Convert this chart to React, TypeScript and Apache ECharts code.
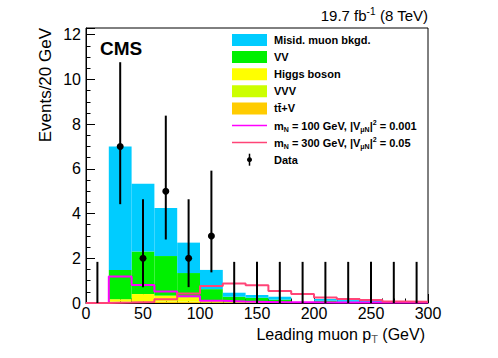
import React, { useEffect, useRef } from "react";
import * as echarts from "echarts";

// bin lower edges (GeV), bin width 20
const binLow = [0, 20, 40, 60, 80, 100, 120, 140, 160, 180, 200, 220, 240, 260, 280];
const binWidth = 20;

// stacked backgrounds (bottom to top)
const ttV = [0, 0.05, 0.06, 0.05, 0.05, 0.03, 0.02, 0.01, 0.01, 0, 0.01, 0, 0, 0, 0];
const vvv = [0, 0.02, 0.03, 0.02, 0.02, 0.01, 0.01, 0.01, 0.01, 0, 0, 0, 0, 0, 0];
const higgs = [0, 0.1, 0.31, 0.26, 0.19, 0.06, 0.03, 0.02, 0.01, 0.02, 0.02, 0.02, 0.01, 0.01, 0];
const vv = [0, 1.31, 1.9, 1.77, 1.08, 0.52, 0.22, 0.2, 0.12, 0.01, 0.07, 0.03, 0.02, 0.01, 0.01];
const misid = [0, 5.52, 3.03, 2.15, 1.36, 0.86, 0.18, 0.12, 0.13, 0, 0.08, 0.08, 0.07, 0.02, 0.01];

// signal hypotheses
const sig100 = [0, 1.18, 0.81, 0.51, 0.3, 0.1, 0.07, 0.05, 0.03, 0.03, 0.02, 0.02, 0.02, 0.02, 0.02];
const sig300 = [0, 0.02, 0.05, 0.17, 0.43, 0.76, 0.87, 0.79, 0.54, 0.4, 0.25, 0.18, 0.13, 0.07, 0.06];

// data with asymmetric (Poisson) uncertainties
const dataVal = [0, 7, 2, 5, 2, 3, 0, 0, 0, 0, 0, 0, 0, 0, 0];
const dataLo = [0, 4.42, 0.71, 2.84, 0.71, 1.37, 0, 0, 0, 0, 0, 0, 0, 0, 0];
const dataHi = [1.84, 10.77, 4.64, 8.38, 4.64, 5.92, 1.84, 1.84, 1.84, 1.84, 1.84, 1.84, 1.84, 1.84, 1.84];

const xTicks = [0, 50, 100, 150, 200, 250, 300];
const yTicks = [0, 2, 4, 6, 8, 10, 12];

const stackDefs = [
  { name: "tt\u0304+V", values: ttV, color: "#ffcc00" },
  { name: "VVV", values: vvv, color: "#ccff00" },
  { name: "Higgs boson", values: higgs, color: "#ffff00" },
  { name: "VV", values: vv, color: "#00f000" },
  { name: "Misid. muon bkgd.", values: misid, color: "#00ccff" },
];

const FONT = "'Liberation Sans', Arial, Helvetica, sans-serif";

export default function App() {
  const ref = useRef<HTMLDivElement>(null);
  useEffect(() => {
    if (!ref.current) return;
    const chart = echarts.init(ref.current, null, { renderer: "svg" });

    const cum = binLow.map(() => 0);
    const stackSeries = stackDefs.map((s) => {
      const data = binLow.map((x, i) => {
        const lo = cum[i];
        cum[i] += s.values[i];
        return [x, x + binWidth, lo, cum[i]];
      });
      return {
        type: "custom",
        name: s.name,
        data,
        renderItem: (params: any, api: any) => {
          const p0 = api.coord([api.value(0), api.value(2)]);
          const p1 = api.coord([api.value(1), api.value(3)]);
          return {
            type: "rect",
            shape: { x: p0[0], y: p1[1], width: p1[0] - p0[0], height: p0[1] - p1[1] },
            style: { fill: s.color, stroke: null },
          };
        },
        silent: true,
      };
    });

    const stepData = (v: number[]) =>
      binLow.map((x, i) => [x, v[i]]).concat([[binLow[binLow.length - 1] + binWidth, v[v.length - 1]]]);

    const lineSeries = [
      { data: stepData(sig100), color: "#ff00ff" },
      { data: stepData(sig300), color: "#ff4477" },
    ].map((l) => ({
      type: "line",
      step: "end",
      data: l.data,
      symbol: "none",
      lineStyle: { color: l.color, width: 2 },
      silent: true,
    }));

    const dataSeries = {
      type: "custom",
      data: binLow.map((x, i) => [x + binWidth / 2, dataVal[i], dataLo[i], dataHi[i]]),
      renderItem: (params: any, api: any) => {
        const x = api.value(0);
        const pLo = api.coord([x, api.value(2)]);
        const pHi = api.coord([x, api.value(3)]);
        const pc = api.coord([x, api.value(1)]);
        const children: any[] = [
          {
            type: "line",
            shape: { x1: pLo[0], y1: pLo[1], x2: pHi[0], y2: pHi[1] },
            style: { stroke: "#000", lineWidth: 2 },
          },
        ];
        if (api.value(1) > 0) {
          children.push({ type: "circle", shape: { cx: pc[0], cy: pc[1], r: 3.5 }, style: { fill: "#000" } });
        }
        return { type: "group", children };
      },
      silent: true,
      z: 5,
    };

    // legend graphic
    const legX = 232, legW = 35, legY0 = 40, legDY = 17.1, textX = 274;
    const legendEntries: any[] = [];
    const subRich = {
      n: { fontSize: 11, fontWeight: "bold", fontFamily: FONT, lineHeight: 14, fill: "#000" },
      s: { fontSize: 7, fontWeight: "bold", fontFamily: FONT, lineHeight: 7, verticalAlign: "bottom", fill: "#000" },
      p: { fontSize: 7, fontWeight: "bold", fontFamily: FONT, lineHeight: 7, verticalAlign: "top", fill: "#000" },
    };
    const legendRows = [
      { kind: "box", color: "#00ccff", text: "{n|Misid. muon bkgd.}" },
      { kind: "box", color: "#00f000", text: "{n|VV}" },
      { kind: "box", color: "#ffff00", text: "{n|Higgs boson}" },
      { kind: "box", color: "#ccff00", text: "{n|VVV}" },
      { kind: "box", color: "#ffcc00", text: "{n|tt\u0304+V}" },
      { kind: "line", color: "#ff00ff", text: "{n|m}{s|N}{n| = 100 GeV, |V}{s|μN}{n||}{p|2}{n| = 0.001}" },
      { kind: "line", color: "#ff4477", text: "{n|m}{s|N}{n| = 300 GeV, |V}{s|μN}{n||}{p|2}{n| = 0.05}" },
      { kind: "data", color: "#000", text: "{n|Data}" },
    ];
    legendRows.forEach((r, i) => {
      const cy = legY0 + i * legDY;
      if (r.kind === "box") {
        legendEntries.push({ type: "rect", shape: { x: legX, y: cy - 6, width: legW, height: 12 }, style: { fill: r.color } });
      } else if (r.kind === "line") {
        legendEntries.push({ type: "line", shape: { x1: legX, y1: cy, x2: legX + legW, y2: cy }, style: { stroke: r.color, lineWidth: 1.5 } });
      } else {
        legendEntries.push({ type: "line", shape: { x1: legX + legW / 2, y1: cy - 6, x2: legX + legW / 2, y2: cy + 6 }, style: { stroke: "#000", lineWidth: 1.5 } });
        legendEntries.push({ type: "circle", shape: { cx: legX + legW / 2, cy, r: 2.5 }, style: { fill: "#000" } });
      }
      legendEntries.push({
        type: "text",
        x: textX,
        y: cy,
        style: { text: r.text, rich: subRich, align: "left", verticalAlign: "middle" },
      });
    });

    const option: any = {
      animation: false,
      backgroundColor: "#fff",
      grid: { left: 86, right: 70, top: 28, bottom: 55, show: true, borderColor: "#000", borderWidth: 1, backgroundColor: "transparent" },
      xAxis: {
        type: "value",
        min: xTicks[0],
        max: xTicks[xTicks.length - 1],
        interval: 50,
        axisLine: { show: true, lineStyle: { color: "#000", width: 1 } },
        axisTick: { show: true, inside: true, length: 9, lineStyle: { color: "#000" } },
        minorTick: { show: true, splitNumber: 5, length: 4.5, lineStyle: { color: "#000" } },
        splitLine: { show: false },
        axisLabel: { color: "#000", fontSize: 16, fontFamily: FONT, margin: 2 },
      },
      yAxis: {
        type: "value",
        min: yTicks[0],
        max: 12.3,
        interval: 2,
        axisLine: { show: true, lineStyle: { color: "#000", width: 1 } },
        axisTick: { show: true, inside: true, length: 9, lineStyle: { color: "#000" } },
        minorTick: { show: true, splitNumber: 4, length: 4.5, lineStyle: { color: "#000" } },
        splitLine: { show: false },
        axisLabel: { color: "#000", fontSize: 16, fontFamily: FONT, margin: 5, showMaxLabel: false },
      },
      series: [...stackSeries, ...lineSeries, dataSeries],
      graphic: [
        {
          type: "text",
          x: 100,
          y: 48,
          style: { text: "CMS", fontSize: 19, fontWeight: "bold", fontFamily: FONT, fill: "#000", align: "left", verticalAlign: "middle" },
        },
        {
          type: "text",
          x: 428,
          y: 15,
          style: {
            text: "{a|19.7 fb}{p|-1}{a| (8 TeV)}",
            align: "right",
            verticalAlign: "middle",
            rich: {
              a: { fontSize: 15, fontFamily: FONT, lineHeight: 17, fill: "#000" },
              p: { fontSize: 10, fontFamily: FONT, lineHeight: 10, verticalAlign: "top", fill: "#000" },
            },
          },
        },
        {
          type: "text",
          x: 45,
          y: 28,
          rotation: Math.PI / 2,
          style: { text: "Events/20 GeV", fontSize: 17, fontFamily: FONT, fill: "#000", align: "right", verticalAlign: "middle" },
        },
        {
          type: "text",
          x: 425,
          y: 334,
          style: {
            text: "{a|Leading muon p}{s|T}{a| (GeV)}",
            align: "right",
            verticalAlign: "middle",
            rich: {
              a: { fontSize: 16, fontFamily: FONT, lineHeight: 20, fill: "#000" },
              s: { fontSize: 11, fontFamily: FONT, lineHeight: 6, verticalAlign: "bottom", fill: "#555" },
            },
          },
        },
        ...legendEntries,
      ],
    };
    chart.setOption(option);
    return () => chart.dispose();
  }, []);
  return <div ref={ref} style={{ position: "fixed", left: 0, top: 0, width: 498, height: 358 }} />;
}
